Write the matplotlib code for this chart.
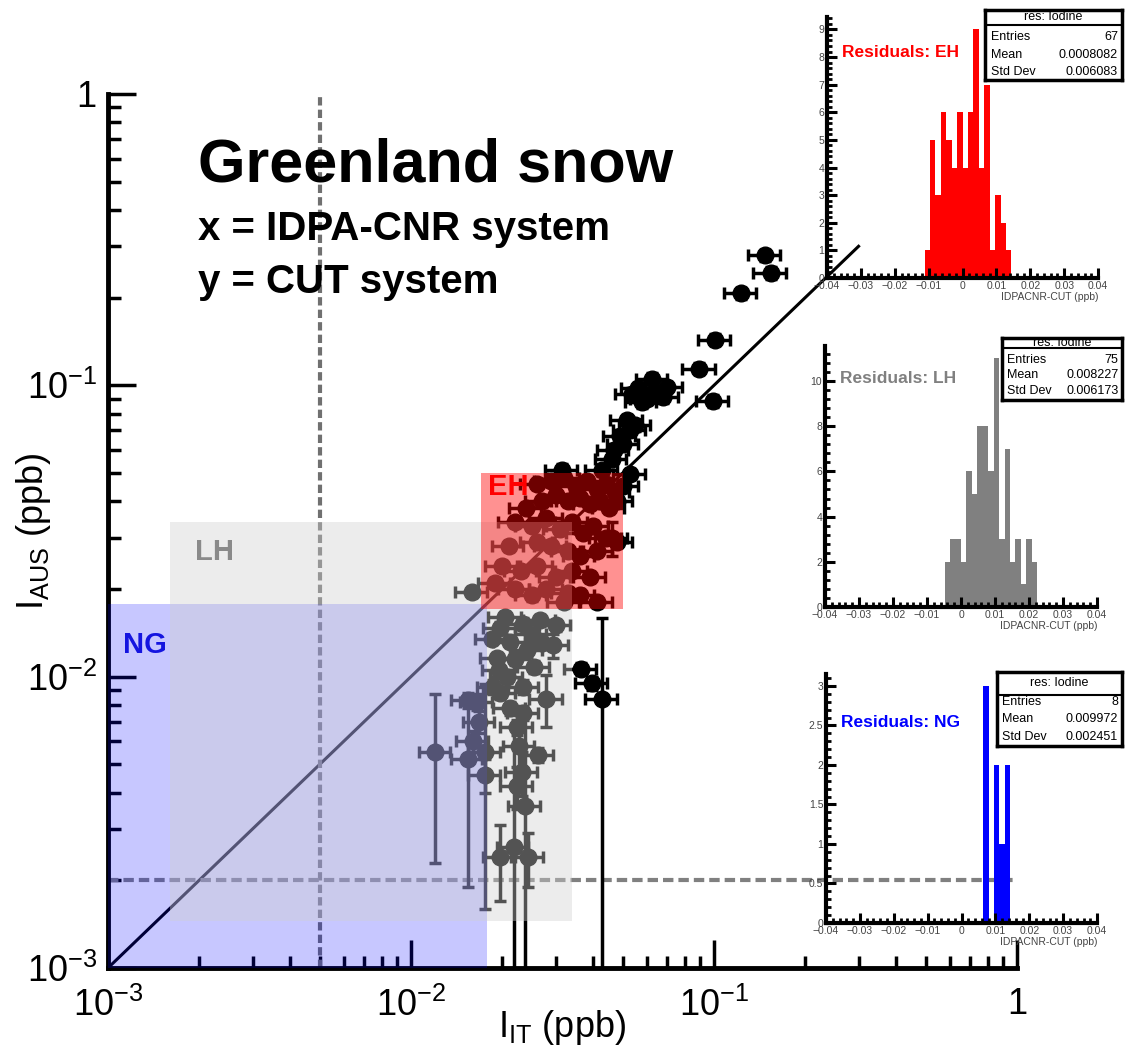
import numpy as np
import matplotlib
matplotlib.use("Agg")
import matplotlib.pyplot as plt
from matplotlib.patches import Rectangle
from matplotlib.ticker import MultipleLocator, FuncFormatter

plt.rcParams["font.family"] = ["Liberation Sans", "DejaVu Sans"]
plt.rcParams["mathtext.fontset"] = "custom"
plt.rcParams["mathtext.rm"] = "Liberation Sans"
plt.rcParams["mathtext.it"] = "Liberation Sans:italic"
plt.rcParams["mathtext.bf"] = "Liberation Sans:bold"

# ---- main scatter: I_IT (x) vs I_AUS (y), ppb ----
# points above the EH box
top_x = [0.147, 0.154, 0.123, 0.1007, 0.0895, 0.0995, 0.0626, 0.0698, 0.0535, 0.0577,
         0.068, 0.0515, 0.0528, 0.0502, 0.0466, 0.0459, 0.0314, 0.0426, 0.0528, 0.060,
         0.064, 0.056, 0.049, 0.055]
top_y = [0.280, 0.243, 0.207, 0.1435, 0.114, 0.0883, 0.1054, 0.0987, 0.0936, 0.0877,
         0.0912, 0.0759, 0.070, 0.063, 0.0598, 0.056, 0.0513, 0.051, 0.0497, 0.090,
         0.094, 0.098, 0.067, 0.073]
top_xerr = [0.018, 0.019, 0.015, 0.012, 0.011, 0.012, 0.0075, 0.0084, 0.0064, 0.0069,
            0.0082, 0.0062, 0.0063, 0.006, 0.0056, 0.0055, 0.0038, 0.0051, 0.0063, 0.0072,
            0.0077, 0.0067, 0.0059, 0.0066]
top_yerr = [0.012, 0.011, 0.009, 0.006, 0.005, 0.004, 0.0045, 0.0042, 0.004, 0.0038,
            0.004, 0.0033, 0.003, 0.0027, 0.0026, 0.0024, 0.0022, 0.0022, 0.0021, 0.004,
            0.004, 0.0042, 0.0029, 0.0031]

# points inside the EH box
eh_x = [0.026, 0.029, 0.032, 0.035, 0.038, 0.041, 0.044, 0.047, 0.050, 0.036,
        0.039, 0.042, 0.045, 0.048, 0.030, 0.033, 0.027, 0.024, 0.022, 0.025,
        0.028, 0.031, 0.034, 0.037, 0.040, 0.044, 0.048, 0.026, 0.029, 0.033,
        0.036, 0.041, 0.021, 0.020, 0.023, 0.026, 0.030, 0.034, 0.039, 0.022,
        0.025, 0.028, 0.032, 0.036, 0.019, 0.041, 0.046, 0.033]
eh_y = [0.046, 0.047, 0.048, 0.045, 0.047, 0.044, 0.046, 0.043, 0.045, 0.041,
        0.039, 0.040, 0.038, 0.040, 0.042, 0.040, 0.040, 0.038, 0.034, 0.033,
        0.035, 0.032, 0.034, 0.031, 0.033, 0.030, 0.029, 0.029, 0.028, 0.027,
        0.026, 0.027, 0.028, 0.024, 0.023, 0.024, 0.022, 0.023, 0.022, 0.020,
        0.019, 0.020, 0.018, 0.019, 0.021, 0.018, 0.030, 0.0194]
eh_xerr = [0.0031, 0.0035, 0.0038, 0.0042, 0.0046, 0.0049, 0.0053, 0.0056, 0.006, 0.0043,
           0.0047, 0.005, 0.0054, 0.0058, 0.0036, 0.004, 0.0032, 0.0029, 0.0026, 0.003,
           0.0034, 0.0037, 0.0041, 0.0044, 0.0048, 0.0053, 0.0058, 0.0031, 0.0035, 0.004,
           0.0043, 0.0049, 0.0025, 0.0024, 0.0028, 0.0031, 0.0036, 0.0041, 0.0047, 0.0026,
           0.003, 0.0034, 0.0038, 0.0043, 0.0023, 0.0049, 0.0055, 0.004]
eh_yerr = [0.0018, 0.0018, 0.0019, 0.0018, 0.0018, 0.0017, 0.0018, 0.0017, 0.0018, 0.0016,
           0.0015, 0.0016, 0.0015, 0.0016, 0.0016, 0.0016, 0.0016, 0.0015, 0.0013, 0.0013,
           0.0014, 0.0013, 0.0013, 0.0012, 0.0013, 0.0012, 0.0012, 0.0012, 0.0011, 0.0011,
           0.001, 0.0011, 0.0011, 0.0009, 0.0009, 0.0009, 0.0009, 0.0009, 0.0009, 0.0008,
           0.0008, 0.0008, 0.0007, 0.0008, 0.0008, 0.0007, 0.004, 0.0008]

# points in the LH box below EH
lh_x = [0.0159, 0.0294, 0.0212, 0.0241, 0.0197, 0.0235, 0.0266, 0.0192, 0.0207, 0.0187,
        0.0235, 0.0280, 0.0212, 0.0235, 0.0197, 0.0224, 0.0263, 0.0224, 0.0238, 0.0218,
        0.0197, 0.0243, 0.0205, 0.0250, 0.0185, 0.0220, 0.0255, 0.0195, 0.0270, 0.0300,
        0.0228, 0.0232]
lh_y = [0.0195, 0.0128, 0.0132, 0.0123, 0.0147, 0.0152, 0.0156, 0.0116, 0.0100, 0.0092,
        0.0092, 0.0084, 0.0078, 0.0075, 0.0088, 0.0067, 0.0054, 0.0042, 0.0036, 0.0026,
        0.0024, 0.0024, 0.0160, 0.0140, 0.0135, 0.0115, 0.0108, 0.0105, 0.0130, 0.0150,
        0.0058, 0.0047]
lh_xerr = [0.0019, 0.0035, 0.0025, 0.0029, 0.0024, 0.0028, 0.0032, 0.0023, 0.0025, 0.0022,
           0.0028, 0.0034, 0.0025, 0.0028, 0.0024, 0.0027, 0.0032, 0.0027, 0.0029, 0.0026,
           0.0024, 0.0029, 0.0025, 0.003, 0.0022, 0.0026, 0.0031, 0.0023, 0.0032, 0.0036,
           0.0027, 0.0028]
lh_ylo = [0.0008, 0.0012, 0.0006, 0.0006, 0.0007, 0.0007, 0.0007, 0.0005, 0.0005, 0.0005,
          0.0005, 0.0017, 0.0004, 0.0004, 0.0004, 0.0004, 0.0003, 0.0007, 0.0031, 0.0021,
          0.0007, 0.0005, 0.0007, 0.0006, 0.0006, 0.0005, 0.0005, 0.0005, 0.0006, 0.0007,
          0.0012, 0.0008]
lh_yhi = [0.0008, 0.0012, 0.0006, 0.0006, 0.0007, 0.0007, 0.0007, 0.0005, 0.0005, 0.0005,
          0.0005, 0.0017, 0.0004, 0.0004, 0.0004, 0.0004, 0.0003, 0.0007, 0.0039, 0.0041,
          0.0007, 0.0005, 0.0007, 0.0006, 0.0006, 0.0005, 0.0005, 0.0005, 0.0006, 0.0007,
          0.0012, 0.0008]

# points in the NG box
ng_x = [0.0168, 0.0175, 0.0175, 0.0154, 0.0165, 0.0160, 0.0154, 0.0120]
ng_y = [0.0070, 0.0055, 0.0046, 0.0083, 0.0082, 0.0060, 0.0052, 0.0055]
ng_xerr = [0.002, 0.0021, 0.0021, 0.0018, 0.002, 0.0019, 0.0018, 0.0014]
ng_yerr = [0.0006, 0.0039, 0.0006, 0.0005, 0.0005, 0.0005, 0.0033, 0.0032]

# points right of the LH box
out_x = [0.0363, 0.0396, 0.0426]
out_y = [0.0106, 0.0095, 0.0084]
out_xerr = [0.0044, 0.0048, 0.0051]
out_ylo = [0.0005, 0.0005, 0.0079]
out_yhi = [0.0005, 0.0005, 0.0075]

fit_line = [0.001, 0.3]
vline_x = 0.005
hline_y = 0.002

# region boxes: (x0, x1, y0, y1)
ng_box = (0.001, 0.0178, 0.001, 0.0178)
lh_box = (0.0016, 0.034, 0.00145, 0.034)
eh_box = (0.017, 0.05, 0.017, 0.05)

log_ticks = [1e-3, 1e-2, 1e-1, 1]
log_tick_labels = [r"$10^{-3}$", r"$10^{-2}$", r"$10^{-1}$", "1"]

# ---- residual histograms (IDPACNR-CUT, ppb) ----
bin_width = 0.0016
eh_first_edge = -0.0112
eh_counts = [1, 5, 3, 6, 5, 4, 6, 4, 6, 9, 4, 7, 1, 3, 2, 1]
lh_first_edge = -0.0048
lh_counts = [2, 3, 3, 2, 6, 5, 8, 8, 6, 11, 3, 7, 2, 3, 1, 3, 2]
ng_first_edge = 0.0064
ng_counts = [3, 0, 2, 1, 2]
eh_stats = ("67", "0.0008082", "0.006083")
lh_stats = ("75", "0.008227", "0.006173")
ng_stats = ("8", "0.009972", "0.002451")

fig = plt.figure(figsize=(11.26, 10.63), dpi=100)
ax = fig.add_axes([0.0959, 0.0894, 0.8073, 0.8222])
ax.set_xscale("log")
ax.set_yscale("log")
ax.set_xlim(1e-3, 1)
ax.set_ylim(1e-3, 1)

ebar = dict(fmt="o", color="black", ms=12, elinewidth=2.5, capsize=4, capthick=2.5, zorder=3)
ax.errorbar(top_x, top_y, xerr=top_xerr, yerr=top_yerr, **ebar)
ax.errorbar(eh_x, eh_y, xerr=eh_xerr, yerr=eh_yerr, **ebar)
ax.errorbar(lh_x, lh_y, xerr=lh_xerr, yerr=[lh_ylo, lh_yhi], **ebar)
ax.errorbar(ng_x, ng_y, xerr=ng_xerr, yerr=ng_yerr, **ebar)
ax.errorbar(out_x, out_y, xerr=out_xerr, yerr=[out_ylo, out_yhi], **ebar)

ax.plot(fit_line, fit_line, color="black", lw=2.2, zorder=2)
ax.axvline(vline_x, color="#707070", lw=3, ls=(0, (2, 1)), zorder=2)
ax.axhline(hline_y, color="#808080", lw=3, ls=(0, (2.5, 1.2)), zorder=2)

for box, col, a in [(ng_box, "#0000ff", 0.22), (lh_box, "#d0d0d0", 0.4), (eh_box, "#ff0000", 0.43)]:
    x0, x1, y0, y1 = box
    ax.add_patch(Rectangle((x0, y0), x1 - x0, y1 - y0, facecolor=col, alpha=a,
                           edgecolor="none", zorder=4))

ax.text(0.0179, 0.0419, "EH", color="#ff0000", fontsize=21, fontweight="bold", zorder=5)
ax.text(0.00194, 0.0251, "LH", color="#8a8a8a", fontsize=21, fontweight="bold", zorder=5)
ax.text(0.00112, 0.0121, "NG", color="#1414e0", fontsize=21, fontweight="bold", zorder=5)

for s in ["top", "right"]:
    ax.spines[s].set_visible(False)
for s in ["left", "bottom"]:
    ax.spines[s].set_linewidth(3.5)
ax.set_xticks(log_ticks)
ax.set_xticklabels(log_tick_labels)
ax.set_yticks(log_ticks)
ax.set_yticklabels(log_tick_labels)
ax.tick_params(which="major", direction="in", length=20, width=2.5, labelsize=26)
ax.tick_params(which="minor", direction="in", length=9, width=2.5)
ax.tick_params(axis="x", which="major", pad=14)
ax.tick_params(axis="y", which="major", pad=8)
ax.set_xlabel(r"$\mathregular{I_{IT}}$ (ppb)", fontsize=26)
ax.set_ylabel(r"$\mathregular{I_{AUS}}$ (ppb)", fontsize=26)
ax.xaxis.set_label_coords(0.5, -0.046)
ax.yaxis.set_label_coords(-0.061, 0.5)

fig.text(0.1758, 0.8297, "Greenland snow", fontsize=44, fontweight="bold", va="baseline")
fig.text(0.1758, 0.7742, "x = IDPA-CNR system", fontsize=29, fontweight="bold", va="baseline")
fig.text(0.1758, 0.7244, "y = CUT system", fontsize=29, fontweight="bold", va="baseline")


def fmt_num(v, pos):
    return f"{round(v, 6):g}".replace("-", "\u2212")


def residual_hist(rect, first_edge, counts, color, ymax, ymaj, ymin, title, title_y,
                  stats, stats_rect, sep, rows):
    h = fig.add_axes(rect)
    h.patch.set_alpha(0)
    edges = first_edge + bin_width * np.arange(len(counts) + 1)
    h.stairs(counts, edges, fill=True, color=color, lw=0)
    h.set_xlim(-0.04, 0.04)
    h.set_ylim(0, ymax)
    for s in ["top", "right"]:
        h.spines[s].set_visible(False)
    for s in ["left", "bottom"]:
        h.spines[s].set_linewidth(3)
    h.xaxis.set_major_locator(MultipleLocator(0.01))
    h.xaxis.set_minor_locator(MultipleLocator(0.002))
    h.yaxis.set_major_locator(MultipleLocator(ymaj))
    h.yaxis.set_minor_locator(MultipleLocator(ymin))
    h.xaxis.set_major_formatter(FuncFormatter(fmt_num))
    h.yaxis.set_major_formatter(FuncFormatter(fmt_num))
    h.tick_params(which="major", direction="in", length=7, width=2.2, labelsize=7.5,
                  labelcolor="#444444", pad=2)
    h.tick_params(which="minor", direction="in", length=3.5, width=2)
    h.set_xlabel("IDPACNR-CUT (ppb)", fontsize=7.5, color="#444444", loc="right", labelpad=1)
    h.text(0.055, title_y, title, transform=h.transAxes, color=color, fontsize=12.5,
           fontweight="bold", va="baseline")

    b = fig.add_axes(stats_rect)
    b.set_xlim(0, 1)
    b.set_ylim(0, 1)
    b.set_xticks([])
    b.set_yticks([])
    for s in b.spines.values():
        s.set_linewidth(2.5)
    b.axhline(sep, color="black", lw=1.5)
    b.text(0.5, (1 + sep) / 2, "res: Iodine", ha="center", va="center", fontsize=9)
    for name, val, ry in zip(["Entries", "Mean", "Std Dev"], stats, rows):
        b.text(0.04, ry, name, ha="left", va="center", fontsize=9)
        b.text(0.97, ry, val, ha="right", va="center", fontsize=9)


residual_hist([0.7345, 0.7385, 0.2407, 0.2455], eh_first_edge, eh_counts, "#ff0000",
              9.45, 1, 0.2, "Residuals: EH", 0.847, eh_stats,
              [0.8748, 0.9247, 0.1217, 0.0659], 0.786, [0.61, 0.36, 0.11])
residual_hist([0.7327, 0.4290, 0.2416, 0.2455], lh_first_edge, lh_counts, "#808080",
              11.55, 2, 0.4, "Residuals: LH", 0.858, lh_stats,
              [0.8899, 0.6237, 0.1066, 0.0583], 0.84, [0.645, 0.40, 0.145])
residual_hist([0.7336, 0.1317, 0.2407, 0.2342], ng_first_edge, ng_counts, "#0000ff",
              3.15, 0.5, 0.1, "Residuals: NG", 0.787, ng_stats,
              [0.8854, 0.2982, 0.1110, 0.0696], 0.69, [0.595, 0.365, 0.12])

fig.savefig("out.png", dpi=100)
